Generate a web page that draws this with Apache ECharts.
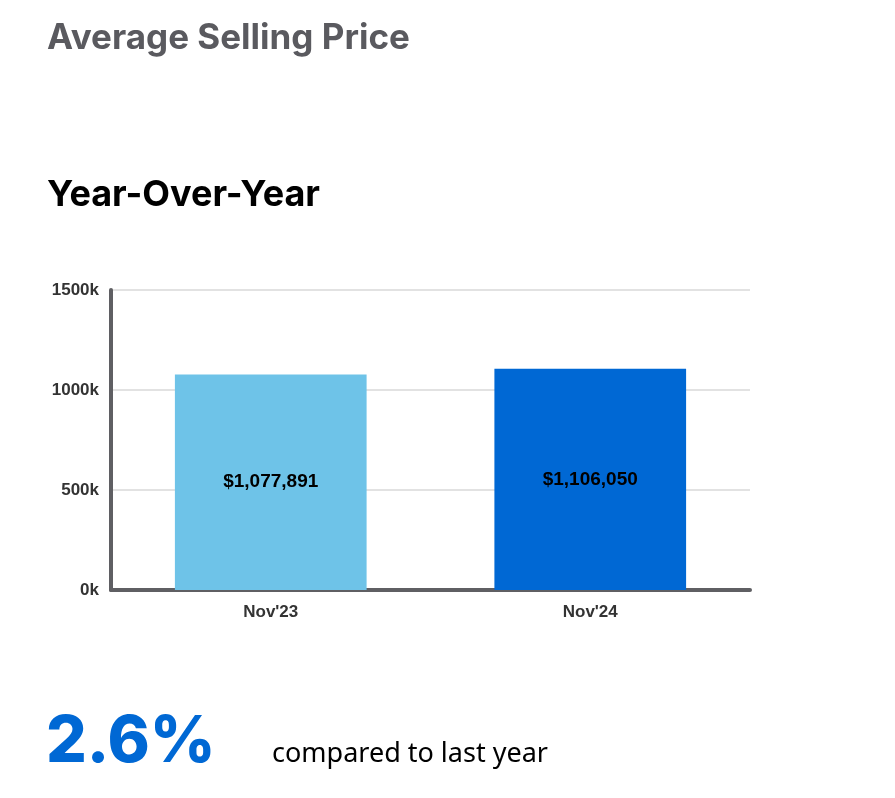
<!DOCTYPE html>
<html>
<head>
<meta charset="utf-8">
<script src="https://cdn.jsdelivr.net/npm/echarts@6/dist/echarts.min.js"></script>
<style>
html,body{margin:0;padding:0;background:#fff;}
#c{width:895px;height:798px;}
</style>
</head>
<body>
<div id="c"></div>
<script>
var categories = ["Nov'23", "Nov'24"];
var prices = [1077891, 1106050];
var barColors = ['#6ec3e8', '#0068d4'];
var yTicks = [0, 500000, 1000000, 1500000];
var titleText = 'Average Selling Price';
var subtitleText = 'Year-Over-Year';
var changeText = '2.6%';
var changeNote = 'compared to last year';

var chart = echarts.init(document.getElementById('c'));
chart.setOption({
  animation: false,
  backgroundColor: '#fff',
  grid: {left: 111, right: 145, top: 290, bottom: 208, containLabel: false},
  xAxis: {
    type: 'category',
    data: categories,
    axisLine: {show: true, lineStyle: {color: '#5f5f63', width: 4}},
    axisTick: {show: false},
    axisLabel: {color: '#333', fontSize: 17, fontWeight: 'bold', fontFamily: 'Liberation Sans, Arial, sans-serif', margin: 14}
  },
  yAxis: {
    type: 'value',
    min: yTicks[0],
    max: yTicks[yTicks.length - 1],
    interval: yTicks[1] - yTicks[0],
    axisLine: {show: true, lineStyle: {color: '#5f5f63', width: 4}},
    axisTick: {show: false},
    splitLine: {lineStyle: {color: '#e2e2e2', width: 2}},
    axisLabel: {
      color: '#333', fontSize: 17, fontWeight: 'bold', fontFamily: 'Liberation Sans, Arial, sans-serif', margin: 12,
      formatter: function (v) { return (v / 1000) + 'k'; }
    }
  },
  series: [{
    type: 'bar',
    barWidth: '60%',
    data: prices.map(function (v, i) { return {value: v, itemStyle: {color: barColors[i]}}; }),
    label: {
      show: true,
      position: 'inside',
      color: '#000',
      fontSize: 19,
      fontWeight: 'bold',
      fontFamily: 'Liberation Sans, Arial, sans-serif',
      formatter: function (p) { return '$' + p.value.toLocaleString('en-US'); }
    }
  }],
  graphic: [
    {type: 'text', left: 47, top: 21, style: {text: titleText, fill: '#5a5a5f', font: 'bold 35px Inter, "Noto Sans", sans-serif'}},
    {type: 'text', left: 47, top: 177, style: {text: subtitleText, fill: '#000', font: 'bold 36px Inter, "Noto Sans", sans-serif'}},
    {type: 'text', left: 46, top: 711, style: {text: changeText, fill: '#0068d4', font: '800 64px Inter, "Noto Sans", sans-serif'}},
    {type: 'text', left: 272, top: 741, style: {text: changeNote, fill: '#000', font: '27px "Noto Sans", sans-serif'}}
  ]
});
</script>
</body>
</html>
